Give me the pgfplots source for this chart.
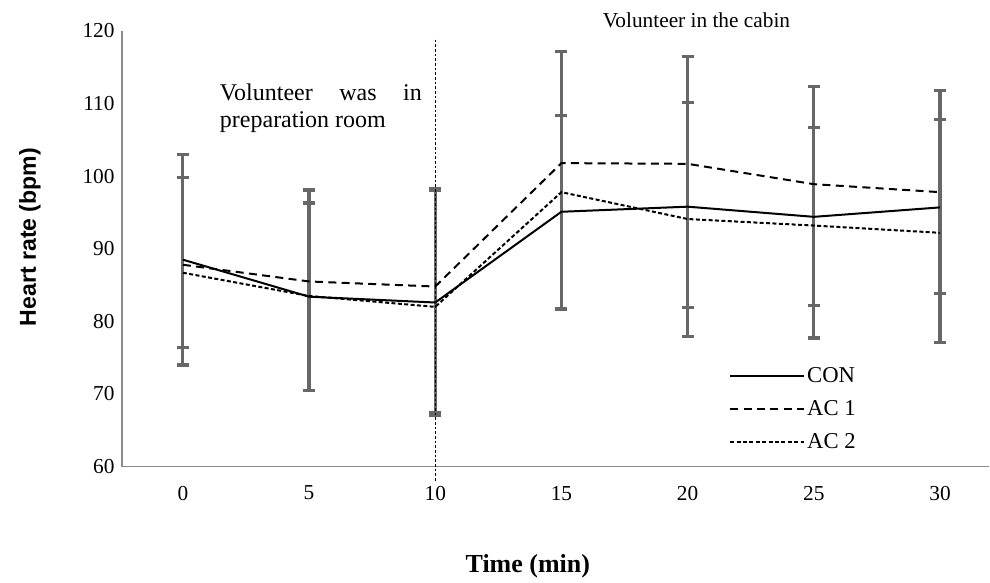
\documentclass[border=0pt]{standalone}
\usepackage{pgfplots}
\pgfplotsset{compat=1.18}
\usepackage{pgfplotstable}
\usepackage{fontspec}
\setmainfont{Liberation Serif}
\newfontfamily\arialfont{Liberation Sans}
\definecolor{errgray}{HTML}{676767}
\definecolor{axgray}{HTML}{8A8A8A}
\hyphenpenalty=10000
\tolerance=10000
\hbadness=10000

\pgfplotstableread{
x y
0 88.5
5 83.4
10 82.6
15 95.1
20 95.8
25 94.4
30 95.7
}\con
\pgfplotstableread{
x y
0 87.8
5 85.5
10 84.8
15 101.8
20 101.7
25 98.9
30 97.8
}\acone
\pgfplotstableread{
x y
0 86.7
5 83.5
10 82.0
15 97.8
20 94.1
25 93.2
30 92.2
}\actwo
% error bars (outer set): centre, plus, minus
\pgfplotstableread{
x y ep em
0 87.8 15.2 13.8
5 85.5 12.6 15.0
10 84.8 13.5 17.8
15 101.8 15.4 20.1
20 101.7 14.8 23.8
25 98.9 13.5 21.2
30 97.8 14.0 20.7
}\erra
% error bars (inner set)
\pgfplotstableread{
x y ep em
0 88.5 11.3 12.1
5 83.4 12.9 12.9
10 82.6 15.4 15.1
15 95.1 13.3 13.4
20 95.8 14.3 13.9
25 94.4 12.3 12.2
30 95.7 12.1 11.9
}\errb

\begin{document}
\begin{tikzpicture}
\begin{axis}[
  scale only axis,
  width=651pt, height=327pt,
  xmin=-2.415, xmax=31.95,
  ymin=60, ymax=120,
  xtick={0,5,10,15,20,25,30},
  ytick={60,70,80,90,100,110,120},
  axis lines*=left,
  axis line style={draw=axgray, line width=1.2pt},
  major tick length=0pt,
  clip=false,
  /pgf/number format/assume math mode=true,
  tick label style={font=\fontsize{16}{19}\selectfont},
  xticklabel style={yshift=-11pt},
  yticklabel style={xshift=-2pt},
  xlabel={Time (min)},
  xlabel style={font=\fontsize{19.5}{23}\selectfont\bfseries, at={(axis description cs:0.468,-0.229)}, anchor=center},
  ylabel={Heart rate (bpm)},
  ylabel style={font=\fontsize{17.3}{20}\selectfont\arialfont\bfseries, at={(axis description cs:-0.106,0.527)}, anchor=center, rotate=0},
  legend style={at={(rel axis cs:0.700,0.234)}, anchor=north west, draw=none, fill=none,
    font=\fontsize{17}{20}\selectfont, row sep=8pt, inner sep=0pt},
  legend cell align=left,
  legend image code/.code={\draw[#1] (0pt,0pt) -- (55pt,0pt);},
]
% invisible bounding frame matching the reference canvas
\path (rel axis cs:-0.1406,-0.2638) rectangle (rel axis cs:1.0,1.0711);

\addplot[draw=none, forget plot, error bars/.cd, y dir=both, y explicit,
  error bar style={line width=2.4pt, errgray},
  error mark options={rotate=90, mark size=4.5pt, line width=2.4pt, errgray}]
  table[x=x, y=y, y error plus=ep, y error minus=em] {\erra};
\addplot[draw=none, forget plot, error bars/.cd, y dir=both, y explicit,
  error bar style={line width=2.4pt, errgray},
  error mark options={rotate=90, mark size=4.5pt, line width=2.4pt, errgray}]
  table[x=x, y=y, y error plus=ep, y error minus=em] {\errb};

\addplot[black, line width=1.5pt, no markers] table[x=x,y=y] {\con};
\addlegendentry{CON}
\addplot[black, line width=1.5pt, no markers, dash pattern=on 6pt off 4pt] table[x=x,y=y] {\acone};
\addlegendentry{AC 1}
\addplot[black, line width=1.5pt, no markers, dash pattern=on 3pt off 1.8pt] table[x=x,y=y] {\actwo};
\addlegendentry{AC 2}

\addplot[black, line width=0.7pt, dash pattern=on 2pt off 1.5pt, forget plot] coordinates {(10,118.8) (10,57.9)};

\node[anchor=north west, inner sep=0pt, text width=151.5pt, align=justify,
  font=\fontsize{18}{20.25}\selectfont] at (axis cs:1.46,112.77)
  {Volunteer was in preparation room};
\node[anchor=center, inner sep=0pt, font=\fontsize{16}{19}\selectfont] at (axis cs:20.35,121.5)
  {Volunteer in the cabin};
\end{axis}
\end{tikzpicture}
\end{document}
